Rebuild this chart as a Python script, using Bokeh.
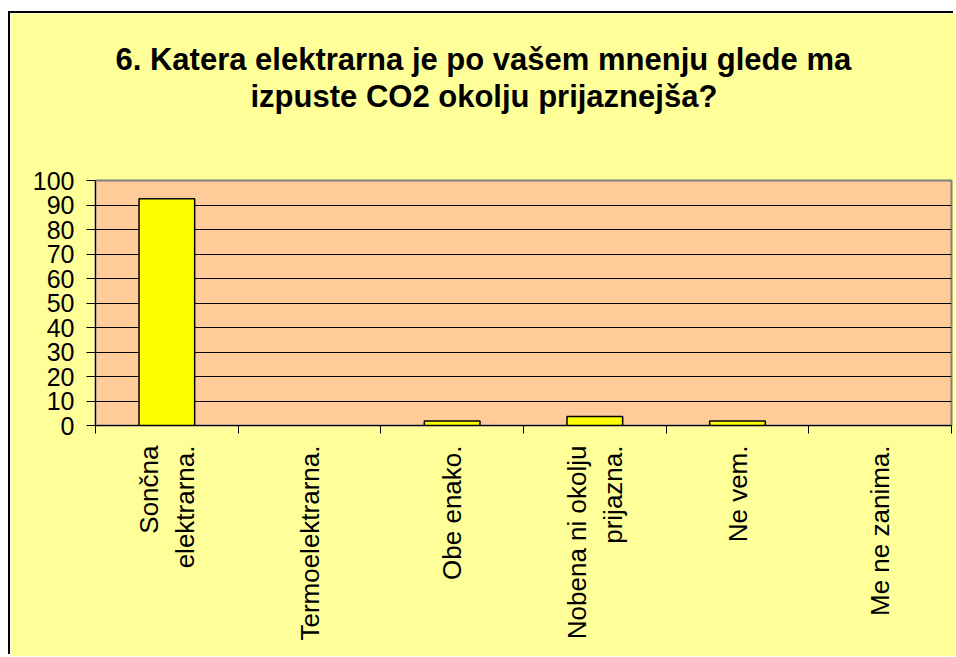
import math
from bokeh.plotting import figure
from bokeh.models import Range1d, FixedTicker, Title
from bokeh.embed import file_html
from bokeh.resources import INLINE

# ---- data ----
categories = ["Sončna\nelektrarna.", "Termoelektrarna.", "Obe enako.",
              "Nobena ni okolju\nprijazna.", "Ne vem.", "Me ne zanima."]
values = [92.6, 0.0, 1.85, 3.7, 1.85, 0.0]
y_ticks = [0, 10, 20, 30, 40, 50, 60, 70, 80, 90, 100]
title_lines = ["6. Katera elektrarna je po vašem mnenju glede ma",
               "izpuste CO2 okolju prijaznejša?"]

FONT = "Liberation Sans"
n = len(categories)
x_pos = [i + 0.5 for i in range(n)]

p = figure(width=945, height=643, output_backend="svg", toolbar_location=None,
           x_range=Range1d(0, n), y_range=Range1d(0, 100),
           min_border_left=85, min_border_right=4,
           min_border_top=167, min_border_bottom=231, title=None)
p.styles = {"margin-top": "13px", "margin-left": "10px",
            "box-shadow": "-2px -2px 0px 0px black"}

p.background_fill_color = "#FFCC99"
p.border_fill_color = "#FFFF99"
p.outline_line_color = "#808080"
p.outline_line_width = 2

# title: spacer next to the plot area, then line 2, then line 1
title_style = dict(text_font=FONT, text_font_size="31px", text_font_style="bold",
                   text_color="black", align="left", standoff=0)
p.add_layout(Title(text=" ", text_font_size="1px", standoff=64), "above")
p.add_layout(Title(text=title_lines[1], offset=155, **title_style), "above")
p.add_layout(Title(text=title_lines[0], offset=20, **title_style), "above")

p.vbar(x=x_pos, top=values, width=0.39, bottom=0,
       fill_color="#FFFF00", line_color="black", line_width=1.5,
       line_alpha=[1.0 if v > 0 else 0.0 for v in values],
       fill_alpha=[1.0 if v > 0 else 0.0 for v in values])

# y axis
ya = p.yaxis[0]
ya.ticker = FixedTicker(ticks=y_ticks)
ya.major_label_text_font = FONT
ya.major_label_text_font_size = "25px"
ya.major_label_text_color = "black"
ya.major_tick_out = 9
ya.major_tick_in = 0
ya.minor_tick_out = 0
ya.minor_tick_in = 0
ya.major_tick_line_color = "black"
ya.axis_line_color = "black"
ya.major_label_standoff = 12

# x axis
xa = p.xaxis[0]
xa.ticker = FixedTicker(ticks=x_pos, minor_ticks=list(range(n + 1)))
xa.major_label_overrides = {x: c for x, c in zip(x_pos, categories)}
xa.major_label_orientation = math.pi / 2
xa.major_label_text_font = FONT
xa.major_label_text_font_size = "26px"
xa.major_label_text_color = "black"
xa.major_label_text_align = "center"
xa.major_tick_out = 0
xa.major_tick_in = 0
xa.minor_tick_out = 8
xa.minor_tick_in = 0
xa.minor_tick_line_color = "black"
xa.axis_line_color = "black"
xa.major_label_standoff = 12

p.xgrid.visible = False
p.ygrid.ticker = FixedTicker(ticks=y_ticks[1:-1])
p.ygrid.grid_line_color = "black"
p.ygrid.grid_line_width = 1

open("out.html", "w").write(file_html(p, INLINE))
